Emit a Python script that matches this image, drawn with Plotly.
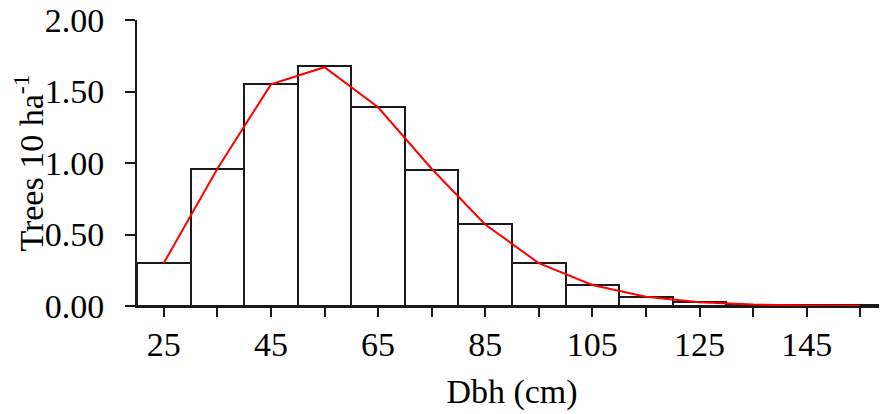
import plotly.graph_objects as go

dbh_mid = [25, 35, 45, 55, 65, 75, 85, 95, 105, 115, 125, 135, 145, 155]
observed = [0.30, 0.96, 1.55, 1.68, 1.39, 0.95, 0.57, 0.30, 0.147, 0.06, 0.026, 0.010, 0.005, 0.004]
fitted = [0.30, 0.96, 1.55, 1.67, 1.39, 0.96, 0.57, 0.30, 0.147, 0.065, 0.027, 0.010, 0.004, 0.002]
x_tickvals = [25, 35, 45, 55, 65, 75, 85, 95, 105, 115, 125, 135, 145, 155]
x_ticktext = ["25", "", "45", "", "65", "", "85", "", "105", "", "125", "", "145", ""]
y_tickvals = [0, 0.5, 1.0, 1.5, 2.0]

FONT = "Liberation Serif"
FS = 34

fig = go.Figure()
fig.add_trace(go.Bar(
    x=dbh_mid, y=observed, width=10,
    marker=dict(color="white", line=dict(color="#1a1a1a", width=2)),
    showlegend=False,
))
fig.add_trace(go.Scatter(
    x=dbh_mid, y=fitted, mode="lines",
    line=dict(color="#ff0000", width=2),
    showlegend=False,
))
# page body has an 8px default margin, so the figure is shrunk by 8px
fig.update_layout(
    width=879, height=406,
    margin=dict(l=129, r=0, t=12, b=108),
    plot_bgcolor="white", paper_bgcolor="white",
    font=dict(family=FONT, size=FS, color="black"),
    bargap=0,
)
fig.update_xaxes(
    range=[20, 160], tickmode="array", tickvals=x_tickvals, ticktext=x_ticktext,
    ticks="outside", ticklen=9, tickwidth=2, tickcolor="#1a1a1a",
    tickfont=dict(family=FONT, size=FS, color="black"),
    ticklabelstandoff=-2, ticklabeloverflow="allow",
    showline=True, linecolor="#1a1a1a", linewidth=2, showgrid=False, zeroline=False,
    automargin=False,
    title=dict(text="Dbh (cm)", standoff=17, font=dict(family=FONT, size=FS, color="black")),
)
fig.update_yaxes(
    range=[0, 2.0], tickmode="array", tickvals=y_tickvals, tickformat=".2f",
    ticks="outside", ticklen=10, tickwidth=2, tickcolor="#1a1a1a",
    tickfont=dict(family=FONT, size=FS, color="black"),
    ticklabelstandoff=14, ticklabeloverflow="allow",
    showline=True, linecolor="#1a1a1a", linewidth=2, showgrid=False, zeroline=False,
    automargin=False,
    title=dict(text="Trees 10 ha<sup>-1</sup>", standoff=18, font=dict(family=FONT, size=FS, color="black")),
)
fig.write_html("out.html")
